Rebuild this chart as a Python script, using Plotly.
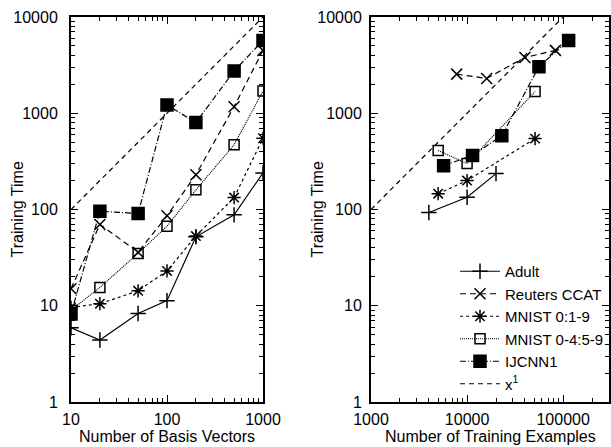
import plotly.graph_objects as go
from plotly.subplots import make_subplots
import numpy as np

# ---- data ----
basis_vectors = [10, 20, 50, 100, 200, 500, 1000]
left_adult = [5.9, 4.4, 8.3, 11.3, 52, 88, 240]
left_reuters = [15, 70, 36, 86, 230, 1170, 4500]
left_mnist019 = [9.6, 10.5, 14.3, 23, 53, 133, 550]
left_mnist0459 = [9.0, 15.5, 35, 67, 160, 470, 1700]
left_ijcnn = [8.2, 96, 91, 1220, 800, 2750, 5700]
left_x1 = [10, 1000]

adult_n = [4000, 10000, 20000]
adult_t = [93, 134, 236]
reuters_n = [7800, 16000, 40000, 83000]
reuters_t = [2550, 2300, 3800, 4500]
mnist019_n = [5000, 10000, 51000]
mnist019_t = [146, 200, 545]
mnist0459_n = [5000, 10000, 51000]
mnist0459_t = [410, 300, 1680]
ijcnn_n = [5700, 11400, 23000, 56000, 114000]
ijcnn_t = [285, 365, 585, 3050, 5700]
right_x1 = [1000, 100000]

names = ["Adult", "Reuters CCAT", "MNIST 0:1-9", "MNIST 0-4:5-9", "IJCNN1", "x<sup>1</sup>"]

styles = [
    dict(dash="solid", symbol="cross-thin-open", size=11),
    dict(dash="6px,4px", symbol="x-thin-open", size=11),
    dict(dash="3px,3px", symbol="asterisk-open", size=11),
    dict(dash="1px,1px", symbol="square-open", size=10),
    dict(dash="6px,2px,1px,2px", symbol="square", size=12),
    dict(dash="5px,4px", symbol=None, size=0),
]
LW = 1.2

fig = make_subplots(rows=1, cols=2, horizontal_spacing=0.0)

left_series = [left_adult, left_reuters, left_mnist019, left_mnist0459, left_ijcnn]
right_series = [(adult_n, adult_t), (reuters_n, reuters_t), (mnist019_n, mnist019_t),
                (mnist0459_n, mnist0459_t), (ijcnn_n, ijcnn_t)]

for i, ys in enumerate(left_series):
    s = styles[i]
    fig.add_trace(go.Scatter(x=basis_vectors, y=ys, mode="lines+markers", name=names[i],
                             showlegend=False,
                             line=dict(color="black", width=LW, dash=s["dash"]),
                             marker=dict(symbol=s["symbol"], size=s["size"], color="black",
                                         line=dict(color="black", width=1.5))),
                  row=1, col=1)
fig.add_trace(go.Scatter(x=left_x1, y=[v * 10 for v in left_x1], mode="lines", name=names[5],
                         showlegend=False,
                         line=dict(color="black", width=LW, dash=styles[5]["dash"])), row=1, col=1)

for i, (xs, ys) in enumerate(right_series):
    s = styles[i]
    fig.add_trace(go.Scatter(x=xs, y=ys, mode="lines+markers", name=names[i],
                             line=dict(color="black", width=LW, dash=s["dash"]),
                             marker=dict(symbol=s["symbol"], size=s["size"], color="black",
                                         line=dict(color="black", width=1.5))),
                  row=1, col=2)
fig.add_trace(go.Scatter(x=right_x1, y=[v / 10 for v in right_x1], mode="lines", name=names[5],
                         line=dict(color="black", width=LW, dash=styles[5]["dash"])), row=1, col=2)

W, H = 611, 447
ml, mr, mt, mb = 71, 2, 17, 45
pw = W - ml - mr
ph = H - mt - mb

FAM = "Liberation Sans, Arial, sans-serif"
font = dict(family=FAM, size=16, color="black")

minor = dict(ticks="inside", ticklen=4, tickwidth=1, tickcolor="black", dtick="D1", showgrid=False)
axis_common = dict(type="log", showline=True, linecolor="black", linewidth=2, mirror="allticks",
                   ticks="inside", ticklen=7, tickwidth=1, tickcolor="black", showgrid=False,
                   zeroline=False, tickfont=font, tickmode="linear", tick0=0, dtick=1,
                   tickformat="d", minor=minor, automargin=False)

fig.update_xaxes(axis_common)
fig.update_yaxes(axis_common)
left_dom = [0, 192 / pw]
right_dom = [300 / pw, 1]
fig.update_xaxes(row=1, col=1, domain=left_dom, range=[1, 3], ticklabelstandoff=2)
fig.update_xaxes(row=1, col=2, domain=right_dom, range=[3, np.log10(300000)], ticklabelstandoff=2)
fig.update_yaxes(row=1, col=1, range=[0, 4], ticklabelstandoff=8)
fig.update_yaxes(row=1, col=2, range=[0, 4], ticklabelstandoff=4)


def px_x(p):
    return (p - ml) / pw


def px_y(p):
    return (H - mb - p) / ph


annos = [
    dict(text="Number of Basis Vectors", x=(left_dom[0] + left_dom[1]) / 2, y=px_y(436)),
    dict(text="Number of Training Examples", x=(right_dom[0] + right_dom[1]) / 2, y=px_y(436)),
    dict(text="Training Time", x=px_x(17), y=0.5, textangle=-90),
    dict(text="Training Time", x=px_x(317), y=0.5, textangle=-90),
]
for a in annos:
    fig.add_annotation(xref="paper", yref="paper", showarrow=False, xanchor="center",
                       yanchor="middle", font=font, **a)

fig.update_layout(
    width=W, height=H, autosize=False,
    margin=dict(l=ml, r=mr, t=mt, b=mb, autoexpand=False),
    paper_bgcolor="white", plot_bgcolor="white", font=font,
    legend=dict(x=1, xanchor="right", y=px_y(400), yanchor="bottom", bgcolor="rgba(0,0,0,0)",
                font=dict(family=FAM, size=15, color="black"),
                tracegroupgap=0, itemwidth=40),
)

fig.write_html("out.html", config={"displayModeBar": False, "responsive": False},
               post_script="document.body.style.margin='0';document.body.style.overflow='hidden';"
                           "document.documentElement.style.overflow='hidden';")
